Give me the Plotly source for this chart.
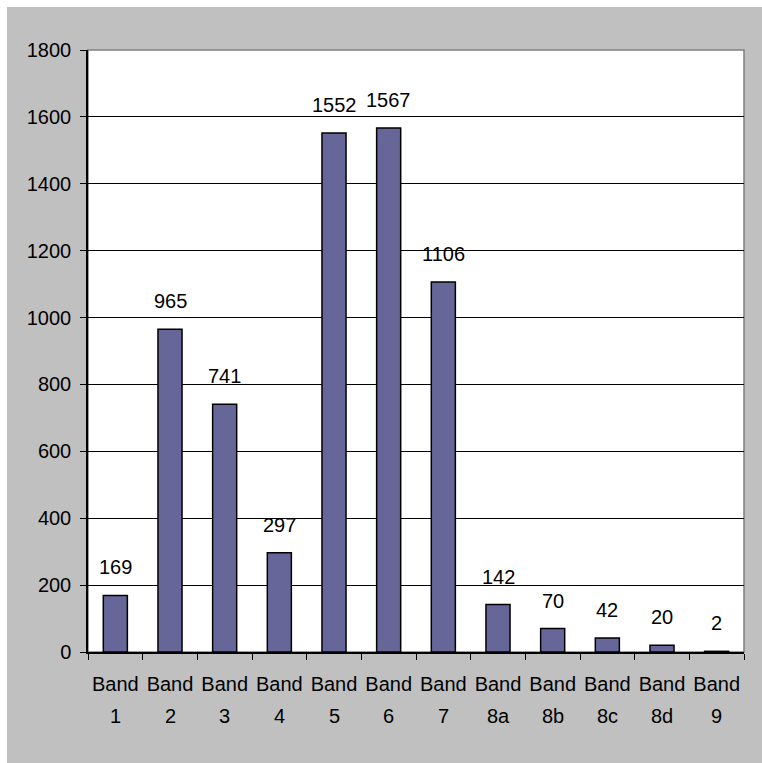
import plotly.graph_objects as go

bands = ["1", "2", "3", "4", "5", "6", "7", "8a", "8b", "8c", "8d", "9"]
values = [169, 965, 741, 297, 1552, 1567, 1106, 142, 70, 42, 20, 2]
categories = ["Band " + b for b in bands]
tick_first_line = ["Band"] * len(bands)
y_ticks = [0, 200, 400, 600, 800, 1000, 1200, 1400, 1600, 1800]

FONT = "Liberation Sans, Arial, sans-serif"
FS = 20
W, H = 762, 763
ML, MR, MT, MB = 88, 18, 50, 111

fig = go.Figure()
fig.add_trace(go.Bar(
    x=categories, y=values,
    marker=dict(color="#666699", line=dict(color="black", width=1.5)),
    hoverinfo="x+y",
))

annotations = []
for c, b, v in zip(categories, bands, values):
    annotations.append(dict(x=c, y=v, xref="x", yref="y", text=str(v),
                            showarrow=False, yanchor="bottom", yshift=15,
                            font=dict(family=FONT, size=FS, color="black")))
    annotations.append(dict(x=c, y=0, xref="x", yref="paper", text=b,
                            showarrow=False, yanchor="middle", yshift=-64,
                            font=dict(family=FONT, size=FS, color="black")))

pw = W - ML - MR
ph = H - MT - MB
def px_x(p):
    return (p - ML) / pw
def px_y(p):
    return 1 - (p - MT) / ph

shapes = [
    dict(type="rect", xref="paper", yref="paper", x0=px_x(0), x1=px_x(W + 5),
         y0=px_y(7), y1=px_y(-5), fillcolor="white", line=dict(width=0), layer="below"),
    dict(type="rect", xref="paper", yref="paper", x0=px_x(-5), x1=px_x(7),
         y0=px_y(H + 5), y1=px_y(-5), fillcolor="white", line=dict(width=0), layer="below"),
    dict(type="rect", xref="paper", yref="paper", x0=0, x1=1, y0=0, y1=1,
         line=dict(color="#808080", width=1.5), layer="between"),
]

fig.update_layout(
    width=W, height=H,
    margin=dict(l=ML, r=MR, t=MT, b=MB, pad=0, autoexpand=False),
    paper_bgcolor="#c0c0c0",
    plot_bgcolor="white",
    showlegend=False,
    bargap=0.56,
    font=dict(family=FONT, size=FS, color="black"),
    annotations=annotations,
    shapes=shapes,
)
fig.update_xaxes(
    type="category", automargin=False, tickangle=0,
    tickmode="array", tickvals=categories, ticktext=tick_first_line,
    tickson="boundaries", ticks="outside", ticklen=6, tickcolor="black", tickwidth=1,
    showline=True, linecolor="black", linewidth=1.5,
    showgrid=False, tickfont=dict(family=FONT, size=FS, color="black"),
    ticklabelstandoff=13,
)
fig.update_yaxes(
    range=[0, 1800], tickvals=y_ticks, automargin=False,
    ticks="outside", ticklen=6, tickcolor="black", tickwidth=1,
    showline=True, linecolor="black", linewidth=1.5,
    showgrid=True, gridcolor="black", gridwidth=1,
    zeroline=False,
    tickfont=dict(family=FONT, size=FS, color="black"),
    ticklabelstandoff=5,
)

fig.write_html("out.html")
